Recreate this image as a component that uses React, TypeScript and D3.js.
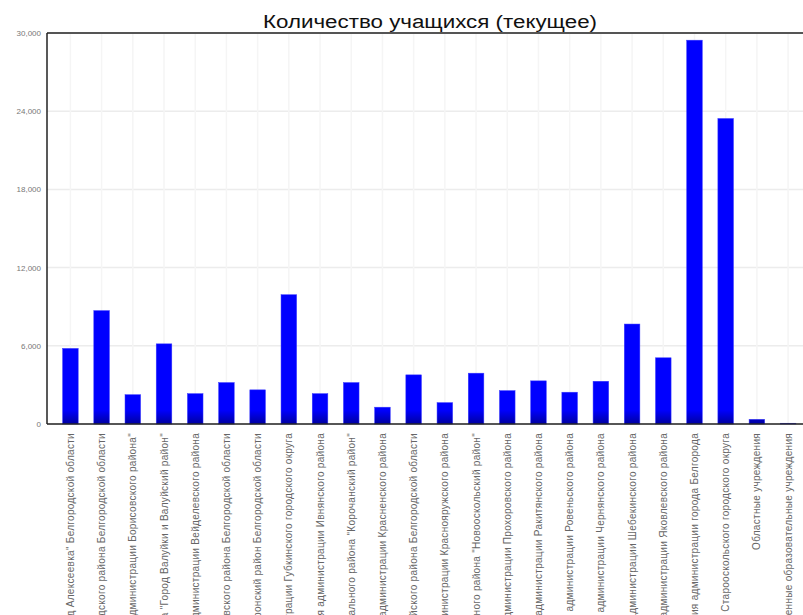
import React from 'react'
import * as d3 from 'd3'

// Количество учащихся по муниципалитетам
const categories = [
  'Управление образования администрации муниципального района "Алексеевский район и город Алексеевка" Белгородской области',
  'Управление образования администрации Белгородского района Белгородской области',
  'Управление образования администрации муниципального района "Управление образования администрации Борисовского района"',
  'Управление образования администрации муниципального района "Город Валуйки и Валуйский район"',
  'Управление образования администрации Вейделевского района',
  'Управление образования администрации Волоконовского района Белгородской области',
  'Управление образования администрации муниципального района Грайворонский район Белгородской области',
  'Управление образования администрации Губкинского городского округа',
  'Управление образования администрации Ивнянского района',
  'Управление образования администрации муниципального района "Корочанский район"',
  'Управление образования администрации Красненского района',
  'Управление образования администрации Красногвардейского района Белгородской области',
  'Управление образования администрации Краснояружского района',
  'Управление образования администрации муниципального района "Новооскольский район"',
  'Управление образования администрации Прохоровского района',
  'Управление образования администрации Ракитянского района',
  'Управление образования администрации Ровеньского района',
  'Управление образования администрации Чернянского района',
  'Управление образования администрации Шебекинского района',
  'Управление образования администрации Яковлевского района',
  'Управление образования администрации города Белгорода',
  'Управление образования Старооскольского городского округа',
  'Областные учреждения',
  'Негосударственные образовательные учреждения',
]

const students = [
  5800, 8700, 2250, 6150, 2330, 3180, 2620, 9920, 2330, 3180, 1290, 3770,
  1640, 3900, 2560, 3310, 2440, 3280, 7670, 5080, 29450, 23440, 360, 60,
]

const yTicks = [0, 6000, 12000, 18000, 24000, 30000]

const W = 803
const H = 615
const margin = { top: 33, left: 47, bottom: 424 }
const plotRight = 811.5

export default function App() {
  const x = d3.scaleBand<string>()
    .domain(categories)
    .range([margin.left, plotRight])
    .padding(0.5)

  const y = d3.scaleLinear()
    .domain([0, 30000])
    .range([margin.bottom, margin.top])

  const fmt = d3.format(',')

  return (
    <svg width={W} height={H} style={{ position: 'absolute', left: 0, top: 0, background: '#fff' }}
      fontFamily="'Liberation Sans', Arial, sans-serif">
      <defs>
        <linearGradient id="barShade" gradientUnits="userSpaceOnUse" x1="0" y1={margin.bottom - 14} x2="0" y2={margin.bottom}>
          <stop offset="0" stopColor="#0000ff" />
          <stop offset="1" stopColor="#0000a0" />
        </linearGradient>
      </defs>

      <text x={430} y={28} textAnchor="middle" fontSize={18} fill="#111"
        textLength={334} lengthAdjust="spacingAndGlyphs">
        Количество учащихся (текущее)
      </text>

      {/* grid */}
      {yTicks.map(t => (
        <line key={'h' + t} x1={margin.left} x2={W} y1={y(t)} y2={y(t)} stroke="#ececec" strokeWidth={1.5} />
      ))}
      {categories.map(c => {
        const cx = (x(c) || 0) + x.bandwidth() / 2
        return <line key={'v' + c} x1={cx} x2={cx} y1={margin.top} y2={margin.bottom} stroke="#f5f5f5" strokeWidth={1.5} />
      })}

      {/* bars */}
      {categories.map((c, i) => (
        <rect key={c} x={x(c)} y={y(students[i])} width={x.bandwidth()}
          height={y(0) - y(students[i])} fill="url(#barShade)" stroke="#3b3bff" strokeWidth={0.5} />
      ))}

      {/* frame */}
      <line x1={margin.left} x2={W} y1={margin.top} y2={margin.top} stroke="#555" strokeWidth={2} />
      <line x1={margin.left} x2={margin.left} y1={margin.top} y2={margin.bottom} stroke="#222" strokeWidth={1.5} />
      <line x1={margin.left} x2={W} y1={margin.bottom} y2={margin.bottom} stroke="#222" strokeWidth={1.5} />

      {/* y ticks */}
      {yTicks.map(t => (
        <text key={'t' + t} x={41} y={y(t) + 3} textAnchor="end" fontSize={8} fill="#777">{fmt(t)}</text>
      ))}

      {/* x labels, clipped by the page edge like the source */}
      {categories.map(c => {
        const cx = (x(c) || 0) + x.bandwidth() / 2 + 3.5
        return (
          <text key={'l' + c} transform={`translate(${cx},433) rotate(-90)`} textAnchor="end"
            fontSize={10} letterSpacing={0.3} fill="#666">{c}</text>
        )
      })}
    </svg>
  )
}
